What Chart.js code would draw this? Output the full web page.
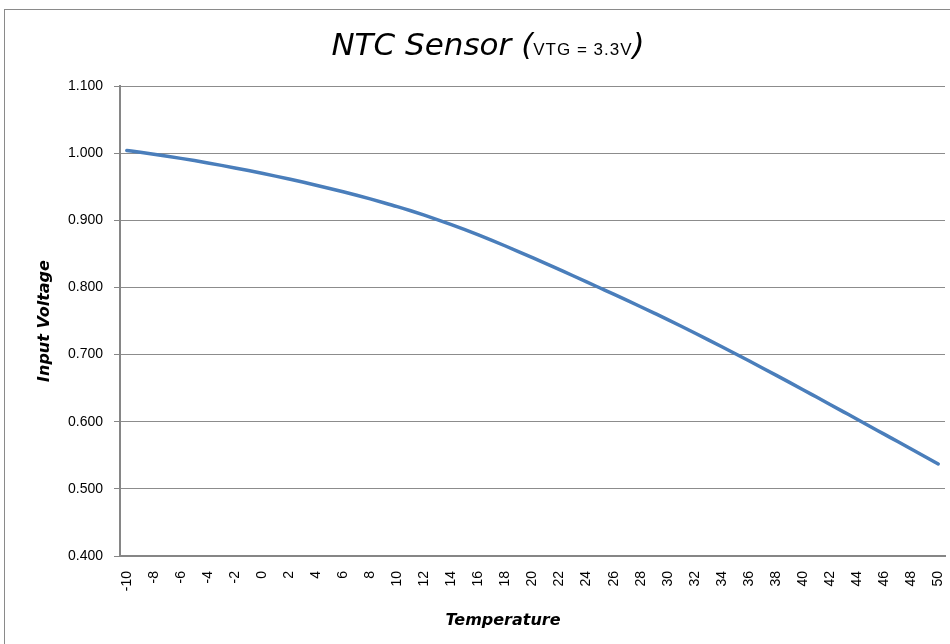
<!DOCTYPE html>
<html>
<head>
<meta charset="utf-8">
<script src="https://cdn.jsdelivr.net/npm/chart.js@4"></script>
<style>
  html, body { margin: 0; padding: 0; background: #fff; }
  #wrap { position: relative; width: 950px; height: 644px; }
</style>
</head>
<body>
<div id="wrap"><canvas id="ntcChart" width="950" height="644"></canvas></div>
<script>
// Temperature categories (deg C), one per degree
const temperatures = [
  -10, -9, -8, -7, -6, -5, -4, -3, -2, -1,
  0, 1, 2, 3, 4, 5, 6, 7, 8, 9,
  10, 11, 12, 13, 14, 15, 16, 17, 18, 19,
  20, 21, 22, 23, 24, 25, 26, 27, 28, 29,
  30, 31, 32, 33, 34, 35, 36, 37, 38, 39,
  40, 41, 42, 43, 44, 45, 46, 47, 48, 49,
  50
];

// Input voltage
const inputVoltage = [
  1.0040, 1.0013, 0.9984, 0.9954, 0.9922, 0.9889, 0.9854, 0.9818, 0.9780, 0.9741,
  0.9700, 0.9658, 0.9614, 0.9569, 0.9522, 0.9474, 0.9424, 0.9372, 0.9318, 0.9262,
  0.9204, 0.9142, 0.9076, 0.9007, 0.8935, 0.8860, 0.8782, 0.8701, 0.8617, 0.8531,
  0.8443, 0.8354, 0.8264, 0.8174, 0.8083, 0.7991, 0.7899, 0.7806, 0.7712, 0.7617,
  0.7521, 0.7422, 0.7321, 0.7219, 0.7116, 0.7012, 0.6907, 0.6801, 0.6694, 0.6586,
  0.6477, 0.6367, 0.6257, 0.6147, 0.6037, 0.5926, 0.5815, 0.5704, 0.5593, 0.5482,
  0.5371
];

const yMin = 0.4;
const yMax = 1.1;
const yStep = 0.1;

// title and x axis title drawn by hand (mixed fonts, off-centre label)
const titlePlugin = {
    id: 'ntcTitle',
    beforeDraw(chart) {
        const ctx = chart.ctx;
        ctx.save();
        ctx.fillStyle = '#fff';
        ctx.fillRect(0, 0, chart.width, chart.height);
        ctx.strokeStyle = '#8a8a8a';
        ctx.lineWidth = 1;
        ctx.strokeRect(4.5, 9.5, 1000, 1000);
        ctx.restore();
    },
    afterDraw(chart) {
        const ctx = chart.ctx;
        ctx.save();
        ctx.fillStyle = '#000';
        ctx.textBaseline = 'alphabetic';
        const big = 'italic 31px "DejaVu Sans"';
        const small = '17px "Liberation Sans"';
        const parts = [
            { text: 'NTC Sensor (', font: big, spacing: '0px' },
            { text: 'VTG = 3.3V', font: small, spacing: '1px' },
            { text: ')', font: big, spacing: '0px' }
        ];
        let total = 0;
        parts.forEach(p => {
            ctx.font = p.font;
            ctx.letterSpacing = p.spacing;
            p.w = ctx.measureText(p.text).width;
            total += p.w;
        });
        let x = 488 - total / 2;
        parts.forEach(p => {
            ctx.font = p.font;
            ctx.letterSpacing = p.spacing;
            ctx.fillText(p.text, x, 55);
            x += p.w;
        });

        ctx.letterSpacing = '0px';
        ctx.font = 'italic bold 16px "DejaVu Sans"';
        ctx.textAlign = 'center';
        ctx.textBaseline = 'middle';
        ctx.fillText('Temperature', 503, 621);
        ctx.restore();
    }
};

const ctxNtc = document.getElementById('ntcChart').getContext('2d');
new Chart(ctxNtc, {
    type: 'line',
    data: {
        labels: temperatures,
        datasets: [{
            label: 'Input Voltage',
            data: inputVoltage,
            borderColor: '#4a7ebb',
            borderWidth: 3.5,
            borderCapStyle: 'round',
            borderJoinStyle: 'round',
            pointRadius: 0,
            cubicInterpolationMode: 'monotone',
            fill: false
        }]
    },
    options: {
        responsive: false,
        animation: false,
        devicePixelRatio: 1,
        layout: { padding: { top: 86, right: 5, left: 0, bottom: 0 } },
        plugins: {
            legend: { display: false },
            tooltip: { enabled: false }
        },
        scales: {
            x: {
                offset: true,
                grid: { display: false, drawTicks: false },
                border: { display: true, color: '#868686', width: 2 },
                ticks: {
                    autoSkip: false,
                    minRotation: 90,
                    maxRotation: 90,
                    padding: 15,
                    color: '#000',
                    font: { family: '"Liberation Sans"', size: 14 },
                    callback: function(val, i) {
                        const t = temperatures[i];
                        return t % 2 === 0 ? String(t) : '';
                    }
                },
                title: { display: false },
                afterFit: function(scale) {
                    scale.height = 88;
                    scale.paddingLeft = 0;
                    scale.paddingRight = 0;
                }
            },
            y: {
                min: yMin,
                max: yMax,
                grid: { color: '#8c8c8c', lineWidth: 1, tickLength: 6, tickColor: '#868686' },
                border: { display: true, color: '#868686', width: 2 },
                ticks: {
                    stepSize: yStep,
                    padding: 11,
                    color: '#000',
                    font: { family: '"Liberation Sans"', size: 14 },
                    callback: v => v.toFixed(3)
                },
                title: {
                    display: true,
                    text: 'Input Voltage',
                    color: '#000',
                    font: { family: '"DejaVu Sans"', size: 16, style: 'italic', weight: 'bold' },
                    padding: { top: 35, bottom: 0 }
                },
                afterFit: function(scale) { scale.width = 120; }
            }
        }
    },
    plugins: [titlePlugin]
});
</script>
</body>
</html>
